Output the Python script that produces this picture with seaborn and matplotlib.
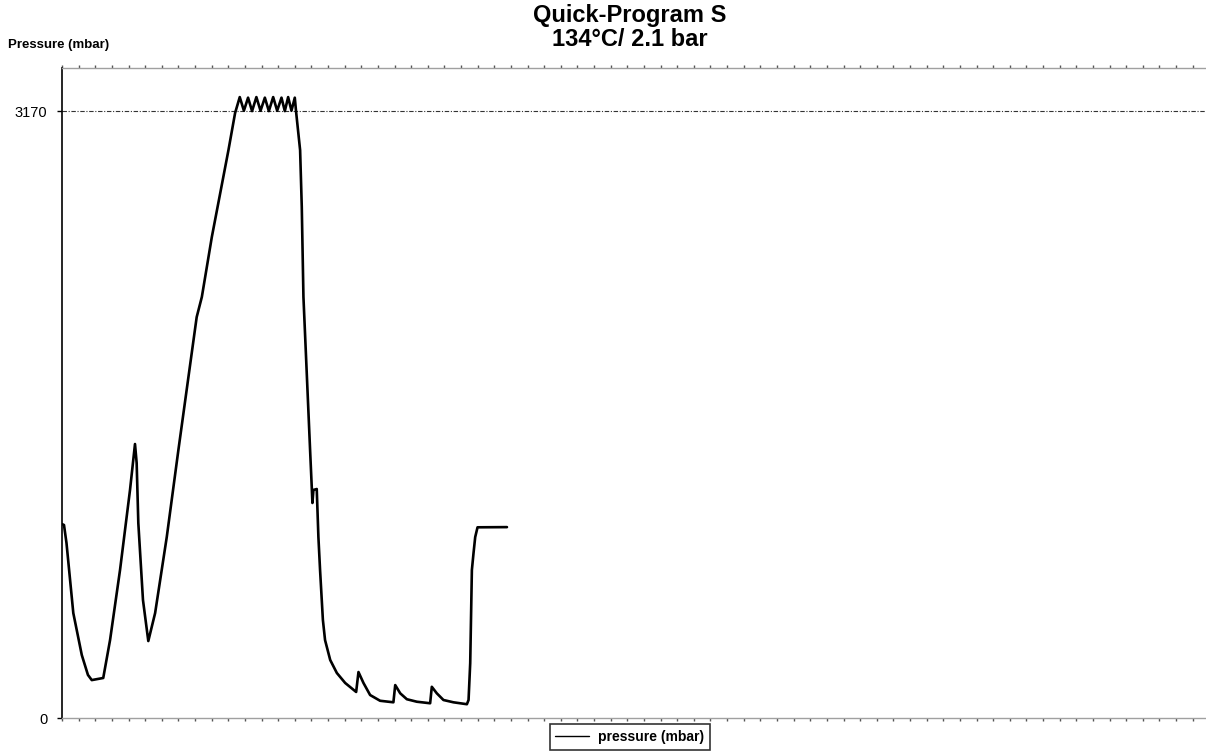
import matplotlib
matplotlib.use("Agg")
import matplotlib.pyplot as plt
import seaborn as sns
import pandas as pd
import numpy as np

# ---- data (time in chart tick units, pressure in mbar) ----
time = [0.00, 0.12, 0.27, 0.68, 1.19, 1.56, 1.79, 2.48, 2.89, 3.49, 4.09, 4.39, 4.49, 4.59,
        4.87, 5.19, 5.60, 6.30, 7.00, 8.10, 8.41, 9.01, 10.01, 10.41,
        10.69, 10.94, 11.19, 11.43, 11.69, 11.94, 12.20, 12.44, 12.70, 12.94, 13.20, 13.40,
        13.60, 13.80, 14.00, 14.08,
        14.32, 14.42, 14.52, 14.92, 15.02, 15.06, 15.12, 15.32, 15.42, 15.52, 15.69, 15.82,
        16.13, 16.53, 17.03, 17.69, 17.83, 18.13, 18.53, 19.13, 19.93, 20.04, 20.34, 20.74,
        21.34, 22.14, 22.24, 22.54, 22.94, 23.54, 24.35, 24.45, 24.55, 24.65, 24.75, 24.85,
        24.99, 26.76]
pressure = [1013, 1008, 914, 548, 329, 225, 198, 209, 407, 773, 1191, 1431, 1332, 1018,
            616, 402, 548, 945, 1400, 2094, 2199, 2512, 2966, 3160,
            3243, 3172, 3240, 3170, 3243, 3172, 3240, 3170, 3243, 3172, 3240, 3170,
            3243, 3172, 3240, 3165,
            2966, 2669, 2199, 1400, 1206, 1123, 1191, 1196, 945, 773, 512, 407,
            303, 235, 183, 136, 240, 183, 120, 90, 82, 172, 129, 98,
            85, 77, 163, 129, 94, 82, 72, 94, 287, 773, 862, 945,
            996, 997]
series_name = "pressure (mbar)"
ytick_values = [0, 3170]
ytick_labels = ["0", "3170"]
title_text = "Quick-Program S\n134°C/ 2.1 bar"
ylabel_text = "Pressure (mbar)"

df = pd.DataFrame({"time": time, "pressure": pressure, "series": series_name})

sns.set_theme(style="white")
plt.rcParams["font.family"] = ["Liberation Sans", "DejaVu Sans"]
plt.rcParams["text.color"] = "black"
plt.rcParams["ytick.labelcolor"] = "black"

fig = plt.figure(figsize=(12.06, 7.55), dpi=100)
ax = fig.add_axes([62 / 1206, 37 / 755, 1 - 62 / 1206, (718 - 68) / 755])

sns.lineplot(data=df, x="time", y="pressure", hue="series", palette=["black"],
             sort=False, linewidth=1.9, ax=ax, legend=True)

ax.set_xlim(0, 68.8)
ax.set_ylim(0, 3395)

# y ticks
ax.set_yticks(ytick_values)
ax.set_yticklabels(ytick_labels, fontsize=10.5, color="black")
ax.tick_params(axis="y", which="major", direction="out", length=3.6, width=1, color="black", pad=7, left=True)

# x ticks (unlabelled marks)
ax.set_xticks(np.arange(0, 69, 1))
ax.set_xticklabels([])
ax.tick_params(axis="x", which="major", direction="out", length=2, width=1, color="#555555", bottom=True, top=True)

# reference line at 3170
ax.axhline(3170, color="#333333", linewidth=0.8, linestyle=(0, (4, 1.5, 1, 1.5)), zorder=1)

# spines
ax.spines["left"].set_color("black")
ax.spines["left"].set_linewidth(1.2)
for s in ["bottom", "top"]:
    ax.spines[s].set_color("#a0a0a0")
    ax.spines[s].set_linewidth(1.0)
ax.spines["right"].set_visible(False)

ax.set_xlabel("")
ax.set_ylabel("")

fig.text(8 / 1206, 1 - 45 / 755, ylabel_text, fontsize=9.5, fontweight="bold", ha="left", va="center",
         color="black")
fig.text(630 / 1206, 1 - 27.5 / 755, title_text, fontsize=17, fontweight="bold", ha="center", va="center",
         linespacing=1.02, color="black")

leg = ax.legend(loc="center", bbox_to_anchor=(630 / 1206, 1 - 737 / 755), bbox_transform=fig.transFigure,
                frameon=True, fancybox=False, edgecolor="black", fontsize=10, handlelength=2.4,
                borderpad=0.4, handletextpad=0.7, borderaxespad=0)
leg.get_frame().set_linewidth(1.2)
for t in leg.get_texts():
    t.set_fontweight("bold")
    t.set_color("black")
for l in leg.get_lines():
    l.set_linewidth(1.0)

fig.savefig("out.png", dpi=100, facecolor="white")
